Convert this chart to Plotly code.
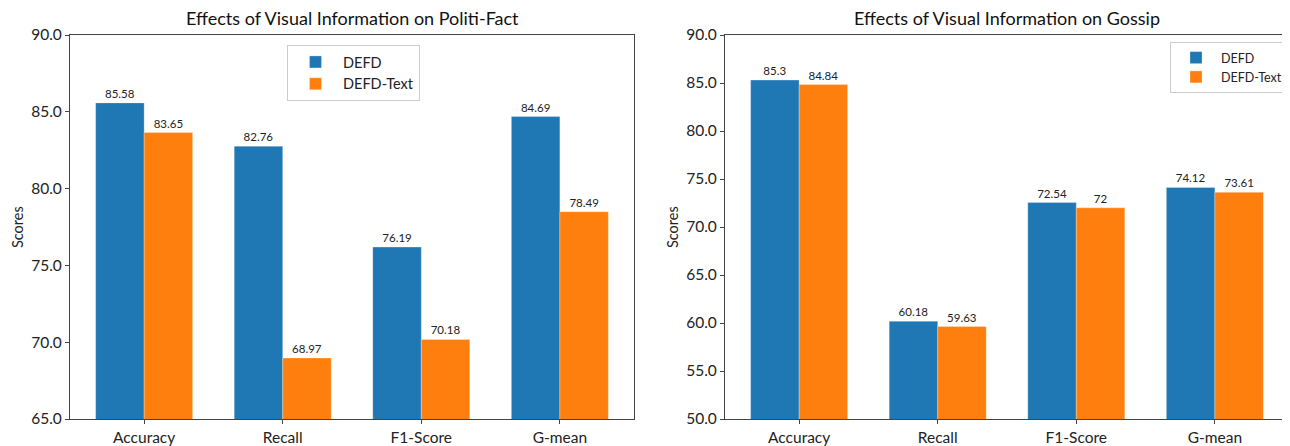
import plotly.graph_objects as go

categories = ["Accuracy", "Recall", "F1-Score", "G-mean"]
series_names = ["DEFD", "DEFD-Text"]
politi_defd = [85.58, 82.76, 76.19, 84.69]
politi_text = [83.65, 68.97, 70.18, 78.49]
gossip_defd = [85.3, 60.18, 72.54, 74.12]
gossip_text = [84.84, 59.63, 72, 73.61]
politi_ticks = [65.0, 70.0, 75.0, 80.0, 85.0, 90.0]
gossip_ticks = [50.0, 55.0, 60.0, 65.0, 70.0, 75.0, 80.0, 85.0, 90.0]
titles = ["Effects of Visual Information on Politi-Fact", "Effects of Visual Information on Gossip"]

OFF = 8  # page body margin
W, H = 1290 - OFF, 446 - OFF
FONT = "Lato"
BLUE = "#1f77b4"
ORANGE = "#ff7f0e"
LINE = "#444444"

def fx(px):
    return (px - OFF) / W

def fy(py):
    return 1 - (py - OFF) / H

fig = go.Figure()

def add_bars(vals_a, vals_b, xa, ya, legend):
    for name, vals, col in ((series_names[0], vals_a, BLUE), (series_names[1], vals_b, ORANGE)):
        fig.add_trace(go.Bar(
            x=categories, y=vals, name=name, xaxis=xa, yaxis=ya,
            marker=dict(color=col, line=dict(color="rgba(255,255,255,0.35)", width=0.8)),
            text=[f"{v:g}" for v in vals], textposition="outside",
            textfont=dict(family=FONT, size=11.5, color="#222222"),
            cliponaxis=False, legend=legend, showlegend=True,
        ))

add_bars(politi_defd, politi_text, "x", "y", "legend")
add_bars(gossip_defd, gossip_text, "x2", "y2", "legend2")

axis_common = dict(
    showline=True, mirror=True, linecolor=LINE, linewidth=1.2,
    ticks="outside", ticklen=4, tickcolor=LINE, tickwidth=1.1,
    showgrid=False, zeroline=False, automargin=False,
    tickfont=dict(family=FONT, size=15.5, color="#222222"),
)

y_top, y_bot = 35, 419

fig.update_layout(
    width=W, height=H,
    margin=dict(l=0, r=0, t=0, b=0, pad=0, autoexpand=False),
    paper_bgcolor="white", plot_bgcolor="white",
    barmode="group", bargap=0.3, bargroupgap=0,
    font=dict(family=FONT, color="#222222"),
    xaxis=dict(domain=[fx(70), fx(634)], range=[-0.535, 3.535], anchor="y", **axis_common),
    yaxis=dict(domain=[fy(y_bot), fy(y_top)], range=[65, 90], tickvals=politi_ticks,
               tickformat=".1f", anchor="x", **axis_common),
    xaxis2=dict(domain=[fx(725), fx(1289)], range=[-0.535, 3.535], anchor="y2", **axis_common),
    yaxis2=dict(domain=[fy(y_bot), fy(y_top)], range=[50, 90], tickvals=gossip_ticks,
                tickformat=".1f", anchor="x2", **axis_common),
    legend=dict(x=fx(353.5), xanchor="center", y=fy(45), yanchor="top",
                bordercolor="#cccccc", borderwidth=1, bgcolor="rgba(255,255,255,0.8)",
                font=dict(family=FONT, size=14.5, color="#222222"),
                itemwidth=45, tracegroupgap=0),
    legend2=dict(x=fx(1288), xanchor="right", y=fy(42), yanchor="top",
                 bordercolor="#cccccc", borderwidth=1, bgcolor="rgba(255,255,255,0.8)",
                 font=dict(family=FONT, size=12.5, color="#222222"),
                 itemwidth=40, tracegroupgap=0),
    annotations=[
        dict(text=titles[0], x=fx(352), y=fy(18), xref="paper", yref="paper",
             xanchor="center", yanchor="middle",
             showarrow=False, font=dict(family=FONT, size=18, color="#111111")),
        dict(text=titles[1], x=fx(1007), y=fy(18), xref="paper", yref="paper",
             xanchor="center", yanchor="middle",
             showarrow=False, font=dict(family=FONT, size=18, color="#111111")),
        dict(text="Scores", x=fx(17), y=fy(227), xref="paper", yref="paper", textangle=-90,
             xanchor="center", yanchor="middle",
             showarrow=False, font=dict(family=FONT, size=14.5, color="#222222")),
        dict(text="Scores", x=fx(672), y=fy(227), xref="paper", yref="paper", textangle=-90,
             xanchor="center", yanchor="middle",
             showarrow=False, font=dict(family=FONT, size=14.5, color="#222222")),
    ],
)

fig.write_html("out.html")
